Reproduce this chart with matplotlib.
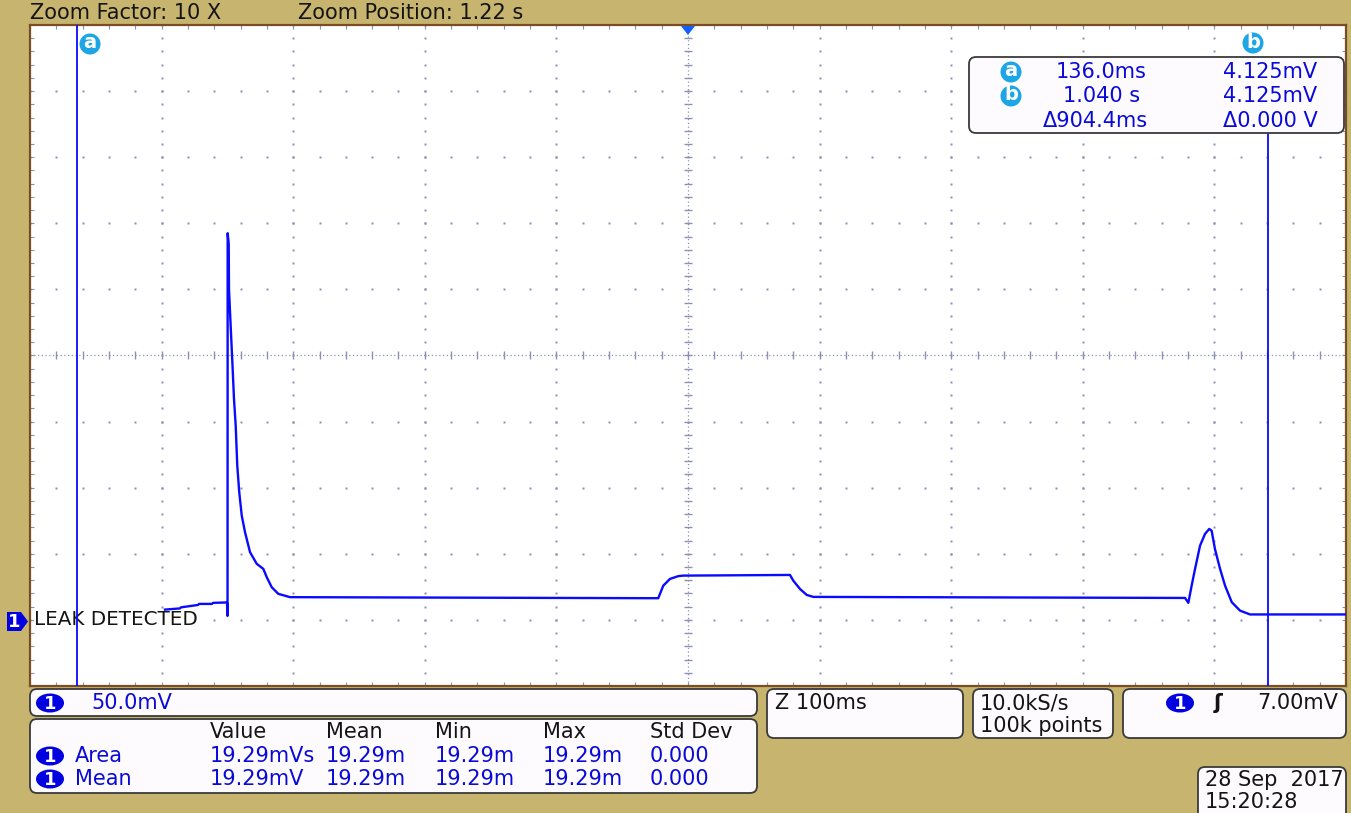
import numpy as np
import matplotlib.pyplot as plt
from matplotlib.patches import FancyBboxPatch, Ellipse, Circle, Polygon

# Canvas size in pixels (dpi 100)
W, H = 1351, 813

# Colours
KHAKI = '#c7b56f'
TRACE = '#0a0aff'
GRID = '#8c90b8'
TEXT_BLUE = '#0a0ad8'
TEXT_DARK = '#141414'
BADGE_BLUE = '#0000e0'
CURSOR_BADGE = '#1ca6e6'

# Scope settings
time_per_div = 100.0      # ms/div  (Z 100ms)
volts_per_div = 50.0      # mV/div
t_left = 100.0            # ms at left edge of the zoomed window
trigger_mv = 7.00

# Channel 1 waveform, time in ms, level in mV
time_ms = [202.6, 214.0, 214.7, 227.7, 228.4, 238.3, 239.1, 249.7, 250.1,
           250.2, 251.0, 251.2, 252.7, 254.0, 255.0, 256.3, 257.5, 259.0,
           260.9, 263.4, 267.2, 272.3, 277.3, 279.9, 283.7, 288.7, 297.6,
           577.4, 581.2, 586.3, 592.6, 596.4, 677.5, 680.0, 685.1, 690.2,
           695.2, 977.7, 980.2, 982.7, 985.3, 989.1, 992.9, 996.1, 997.9,
           1000.4, 1004.3, 1008.1, 1013.2, 1019.5, 1027.1, 1100.0]
volt_mv = [7.8, 8.7, 9.5, 11.3, 12.1, 12.1, 12.9, 13.2, 3.0,
           292.5, 284.4, 250.4, 217.6, 189.9, 167.2, 147.0, 116.7, 96.6,
           78.9, 66.3, 51.2, 42.4, 38.6, 32.3, 24.7, 19.7, 17.2,
           16.4, 25.9, 31.0, 33.1, 33.5, 34.0, 29.7, 23.4, 18.9,
           17.4, 16.6, 12.9, 25.9, 38.6, 56.2, 65.1, 68.8, 67.5,
           53.7, 38.6, 25.9, 13.4, 7.0, 4.125, 4.125]

# Cursors a and b
cursor_names = ['a', 'b']
cursor_ms = [136.0, 1040.4]
cursor_mv = [4.125, 4.125]

# Measurement table
stat_cols = ['Value', 'Mean', 'Min', 'Max', 'Std Dev']
meas_names = ['Area', 'Mean']
meas_values = [['19.29mVs', '19.29m', '19.29m', '19.29m', '0.000'],
               ['19.29mV', '19.29m', '19.29m', '19.29m', '0.000']]

t_right = t_left + 10 * time_per_div
v_bot = -1 * volts_per_div
v_top = 9 * volts_per_div
t_center = t_left + 5 * time_per_div
v_center = v_bot + 5 * volts_per_div

FONT = 'DejaVu Sans'
FS = 15
plt.rcParams['font.family'] = FONT

fig = plt.figure(figsize=(W / 100, H / 100), dpi=100)
fig.patch.set_facecolor(KHAKI)


def frac(x0, y0, x1, y1):
    # pixel box (top-left origin) -> figure fraction rect
    return [x0 / W, 1 - y1 / H, (x1 - x0) / W, (y1 - y0) / H]


# graticule area
plot_box = (30, 25, 1346, 686)
ax = fig.add_axes(frac(*plot_box))
ax.set_facecolor('white')
ax.set_xlim(t_left, t_right)
ax.set_ylim(v_bot, v_top)
for s in ax.spines.values():
    s.set_color('#7a4e22')
    s.set_linewidth(1.6)
ax.set_xticks(np.arange(t_left, t_right + 1, time_per_div))
ax.set_yticks(np.arange(v_bot, v_top + 1, volts_per_div))
ax.set_xticks(np.arange(t_left, t_right + 1, time_per_div / 5), minor=True)
ax.set_yticks(np.arange(v_bot, v_top + 1, volts_per_div / 5), minor=True)
ax.tick_params(which='both', direction='in', length=3, width=0.8, color=GRID,
               top=True, right=True, labelbottom=False, labelleft=False)

# dotted division lines
minor_t = np.arange(t_left, t_right + 1e-6, time_per_div / 5)
minor_v = np.arange(v_bot, v_top + 1e-6, volts_per_div / 5)
for k in range(1, 10):
    if k == 5:
        continue
    tx = t_left + k * time_per_div
    ax.plot(np.full_like(minor_v, tx), minor_v, ls='none', marker='s', ms=1.5,
            mec='none', color=GRID, zorder=1)
    vy = v_bot + k * volts_per_div
    ax.plot(minor_t, np.full_like(minor_t, vy), ls='none', marker='s', ms=1.5,
            mec='none', color=GRID, zorder=1)

# centre cross with tick marks
ax.axvline(t_center, ls=(0, (1, 2)), lw=0.9, color=GRID, zorder=1)
ax.axhline(v_center, ls=(0, (1, 2)), lw=0.9, color=GRID, zorder=1)
ax.plot(np.full_like(minor_v, t_center), minor_v, ls='none', marker='_', ms=6,
        mew=1.0, color=GRID, zorder=1)
ax.plot(minor_t, np.full_like(minor_t, v_center), ls='none', marker='|', ms=6,
        mew=1.0, color=GRID, zorder=1)

# channel label at the ground level
ax.annotate('LEAK DETECTED', xy=(0, 0), xycoords=('axes fraction', 'data'),
            xytext=(3, 0), textcoords='offset points', va='center', ha='left',
            fontsize=14.3, color=TEXT_DARK, zorder=2,
            bbox=dict(fc='white', ec='none', pad=0.5))

# waveform
ax.plot(time_ms, volt_mv, color=TRACE, lw=1.7, zorder=4)

# cursor a spans the full height, cursor b stops under the readout
readout_box = (969, 57, 1344, 133)
b_top = (plot_box[3] - readout_box[3]) / (plot_box[3] - plot_box[1])
ax.axvline(cursor_ms[0], color=TRACE, lw=1.3, zorder=3)
ax.axvline(cursor_ms[1], ymax=b_top, color=TRACE, lw=1.3, zorder=3)

# overlay in pixel coordinates for the panels and markers
ov = fig.add_axes([0, 0, 1, 1])
ov.set_xlim(0, W)
ov.set_ylim(H, 0)
ov.axis('off')
ov.patch.set_alpha(0)
ov.set_zorder(5)


def panel(x0, y0, x1, y1):
    ov.add_patch(FancyBboxPatch((x0, y0), x1 - x0, y1 - y0,
                                boxstyle='round,pad=0,rounding_size=7',
                                fc='#fdfbfd', ec='#3a3a3a', lw=1.3))


def badge(x, y, label='1'):
    ov.add_patch(Ellipse((x, y), 28, 19, fc=BADGE_BLUE, ec='none'))
    ov.text(x, y + 0.5, label, color='white', fontsize=13, fontweight='bold',
            ha='center', va='center')


def cursor_badge(x, y, label):
    ov.add_patch(Circle((x, y), 10.5, fc=CURSOR_BADGE, ec='none'))
    ov.text(x, y - 1, label, color='white', fontsize=14, fontweight='bold',
            ha='center', va='center')


def label(x, y, s, color=TEXT_DARK, **kw):
    ov.text(x, y, s, fontsize=FS, color=color, va='center', **kw)


# header line
label(30, 13, 'Zoom Factor: 10 X')
label(298, 13, 'Zoom Position: 1.22 s')

# trigger position marker and channel 1 ground marker
ov.add_patch(Polygon([(681, 26), (695, 26), (688, 35)], fc='#1060ff', ec='none'))
ov.add_patch(Polygon([(7, 612), (21, 612), (28, 621.5), (21, 631), (7, 631)],
                     fc=BADGE_BLUE, ec='none'))
ov.text(14, 622, '1', color='white', fontsize=13, fontweight='bold',
        ha='center', va='center')

# cursor badges above the graticule
cursor_badge(90, 44, cursor_names[0])
cursor_badge(1253, 43, cursor_names[1])

# cursor readout
panel(*readout_box)
rows_y = [72, 96, 121]
cursor_badge(1011, rows_y[0], cursor_names[0])
cursor_badge(1011, rows_y[1], cursor_names[1])
label(1056, rows_y[0], f'{cursor_ms[0]:.1f}ms', TEXT_BLUE)
label(1063, rows_y[1], f'{cursor_ms[1] / 1000:.3f} s', TEXT_BLUE)
label(1043, rows_y[2], f'\u0394{cursor_ms[1] - cursor_ms[0]:.1f}ms', TEXT_BLUE)
label(1223, rows_y[0], f'{cursor_mv[0]:.3f}mV', TEXT_BLUE)
label(1223, rows_y[1], f'{cursor_mv[1]:.3f}mV', TEXT_BLUE)
label(1223, rows_y[2], f'\u0394{(cursor_mv[1] - cursor_mv[0]) / 1000:.3f} V',
      TEXT_BLUE)

# vertical scale panel
panel(30, 689, 757, 716)
badge(50, 703)
label(91, 703, f'{volts_per_div:.1f}mV', TEXT_BLUE)

# measurement panel
panel(30, 719, 757, 793)
col_x = [210, 326, 435, 543, 650]
for cx, name in zip(col_x, stat_cols):
    label(cx, 732, name)
for ry, name, vals in zip([756, 779], meas_names, meas_values):
    badge(50, ry)
    label(75, ry, name, TEXT_BLUE)
    for cx, v in zip(col_x, vals):
        label(cx, ry, v, TEXT_BLUE)

# timebase, acquisition and trigger panels
panel(767, 689, 963, 738)
label(775, 703, f'Z {time_per_div:.0f}ms')
panel(973, 689, 1113, 738)
label(980, 703, '10.0kS/s')
label(980, 726, '100k points')
panel(1123, 689, 1346, 738)
badge(1180, 703)
ov.text(1218, 703, '\u0283', fontsize=15, fontweight='bold', color=TEXT_DARK,
        ha='center', va='center')
label(1338, 703, f'{trigger_mv:.2f}mV', ha='right')

# date stamp
panel(1198, 767, 1346, 822)
label(1205, 780, '28 Sep  2017')
label(1205, 802, '15:20:28')

fig.savefig('out.png', dpi=100, facecolor=KHAKI)
